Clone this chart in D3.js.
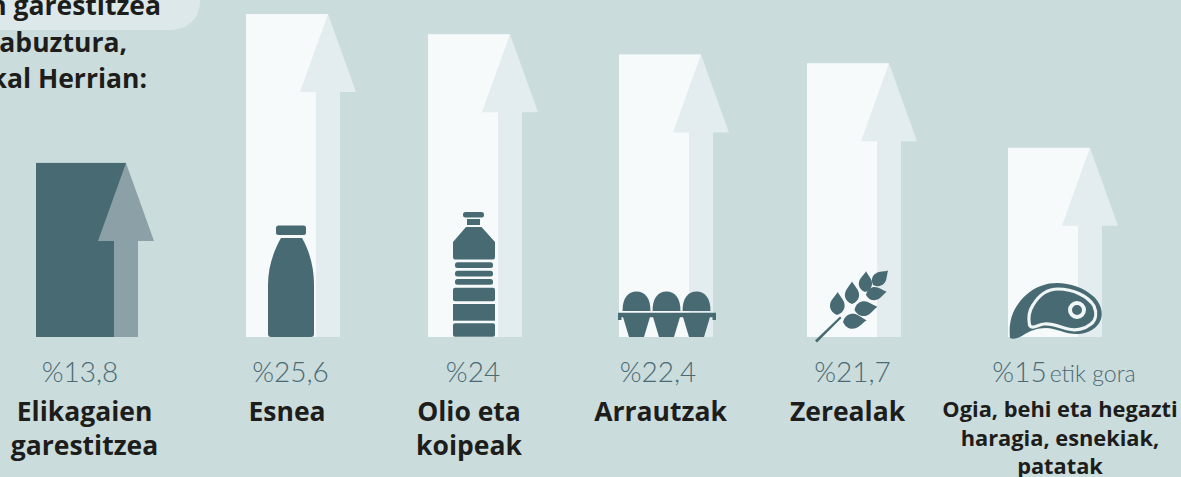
<!DOCTYPE html>
<html>
<head>
<meta charset="utf-8">
<script src="https://cdn.jsdelivr.net/npm/d3@7"></script>
<style>
  html, body { margin: 0; padding: 0; background: #cbdcdd; overflow: hidden; }
  text { font-family: "Open Sans", sans-serif; }
  .label { font-size: 26.5px; font-weight: 700; fill: #1d1d1b; }
  .value { font-size: 28px; font-weight: 300; fill: #4a6b74; font-family: "Lato", sans-serif; }
</style>
</head>
<body>
<svg id="chart" width="1181" height="477"></svg>
<script>
const categories = ["Elikagaien garestitzea", "Esnea", "Olio eta koipeak", "Arrautzak", "Zerealak", "Ogia, behi eta hegazti haragia, esnekiak, patatak"];
const values = [13.8, 25.6, 24, 22.4, 21.7, 15];
const valueLabels = ["%13,8", "%25,6", "%24", "%22,4", "%21,7", "%15"];
const labelLines = [["Elikagaien", "garestitzea"], ["Esnea"], ["Olio eta", "koipeak"], ["Arrautzak"], ["Zerealak"], ["Ogia, behi eta hegazti", "haragia, esnekiak,", "patatak"]];
const titleLines = ["n garestitzea", "abuztura,", "kal Herrian:"];

const svg = d3.select("#chart");

// bars are not evenly spaced in the original so the scales are ordinal
const x = d3.scaleOrdinal().domain(categories).range([36, 246, 428, 619, 807, 1008]);
const y = d3.scaleLinear().domain([0, 25.6]).range([337, 14]);
const labelX = d3.scaleOrdinal().domain(categories).range([84.5, 287, 469, 660.5, 847.5, 1060]);
const valueX = d3.scaleOrdinal().domain(categories).range([80, 290.5, 473, 658, 852.5, 1064]);

// title box, cut by the edge of the picture
svg.append("rect")
  .attr("x", -60).attr("y", -60)
  .attr("width", 260).attr("height", 90)
  .attr("rx", 28)
  .attr("fill", "#dce8e9");

svg.selectAll(".title")
  .data(titleLines)
  .enter().append("text")
  .attr("class", "label title")
  .attr("x", (d, i) => [161, 127, 147][i])
  .attr("y", (d, i) => 15 + i * 36.5)
  .attr("text-anchor", "end")
  .text(d => d);

const groups = svg.selectAll(".item")
  .data(categories)
  .enter().append("g")
  .attr("class", "item");

// bar
groups.append("rect")
  .attr("x", d => x(d))
  .attr("y", (d, i) => y(values[i]))
  .attr("width", (d, i) => i === 0 ? 90 : 82)
  .attr("height", (d, i) => y(0) - y(values[i]))
  .attr("fill", (d, i) => i === 0 ? "#486b73" : "#f6fafb");

// arrow, apex sits on the top right corner of the bar
groups.append("path")
  .attr("transform", (d, i) => `translate(${x(d) + (i === 0 ? 90 : 82)},${y(values[i])})`)
  .attr("d", (d, i) => {
    const h = y(0) - y(values[i]);
    return `M0,0L28,78H12V${h}H-12V78H-28Z`;
  })
  .attr("fill", (d, i) => i === 0 ? "#8ca0a7" : "#e3ecee");

// icons
const iconColor = "#486b73";
const lineColor = "#f0f5f6";
const leaf = "M0,0C-8,-3 -8,-10 -5.5,-14C-3,-18 -1,-20 0,-22C1,-20 3,-18 5.5,-14C8,-10 8,-3 0,0Z";
const icons = [
  null,
  g => {
    g.append("rect").attr("x", 276).attr("y", 225.5).attr("width", 30).attr("height", 9.5).attr("rx", 2.5);
    g.append("path").attr("d", "M281,238H302C310,252 314,268 314,285V334Q314,337 311,337H271Q268,337 268,334V285C268,268 273,252 281,238Z");
  },
  g => {
    g.append("rect").attr("x", 463).attr("y", 212).attr("width", 21).attr("height", 5.5).attr("rx", 2.5);
    g.append("rect").attr("x", 467).attr("y", 219).attr("width", 13).attr("height", 6);
    g.append("path").attr("d", "M466,227H481.5L495,242V257Q495,259.5 493,259.5H455Q453,259.5 453,257V242Z");
    [262.3, 270.7, 279].forEach(by => {
      g.append("rect").attr("x", 455).attr("y", by).attr("width", 38).attr("height", 5.7).attr("rx", 2.5);
    });
    g.append("rect").attr("x", 453).attr("y", 287.7).attr("width", 42).attr("height", 13.5).attr("rx", 2);
    g.append("rect").attr("x", 453).attr("y", 304).attr("width", 42).attr("height", 16.7);
    g.append("rect").attr("x", 453).attr("y", 323.3).attr("width", 42).attr("height", 13.5).attr("rx", 2);
  },
  g => {
    [623, 653, 683].forEach(ex => {
      g.append("path").attr("d", `M${ex - 0.5},311C${ex - 0.5},298 ${ex + 5},291.5 ${ex + 13.5},291.5C${ex + 22},291.5 ${ex + 27.5},298 ${ex + 27.5},311Z`);
      g.append("path").attr("d", `M${ex},317H${ex + 27}L${ex + 21},337H${ex + 6}Z`);
    });
    g.append("path").attr("d", "M618,312.7H716V320H712.5V317.3H621.5V320H618Z");
  },
  g => {
    g.append("path").attr("d", "M815,340.5L840,316.5L841.5,318L817,342.5Z");
    // base x, base y, rotation, scale
    [[837, 315, 2, 1.05], [852, 304, 0, 1.02], [865, 292, 3, 0.95], [873, 285, 46, 0.95], [843, 322, 86, 1.08], [854.5, 310, 82, 1.05], [866, 295, 81, 0.95]]
      .forEach(l => g.append("path").attr("d", leaf).attr("transform", `translate(${l[0]},${l[1]}) rotate(${l[2]}) scale(${l[3]})`));
  },
  g => {
    g.append("path").attr("d", "M1010,338C1008,320 1014,306 1026,295C1036,286 1047,283 1057,283C1070,283 1084,288 1093,296C1101,303 1103,312 1101,319C1098,328 1089,333 1079,334C1067,335 1056,328 1046,328C1037,328 1030,331 1025,334C1019,338 1013,340 1010,338Z");
    g.append("path")
      .attr("d", "M1029.5,325C1028,317 1029,311 1033,305C1039,295 1048,289 1058,289C1073,289 1088,296 1094,306C1097,313 1096,320 1091,324C1085,329 1076,331 1068,329C1060,327 1052,323 1044,324C1038,324.5 1032,330 1029.5,325Z")
      .attr("fill", "none").attr("stroke", lineColor).attr("stroke-width", 3.2);
    g.append("circle").attr("cx", 1077).attr("cy", 310).attr("r", 7).attr("fill", "none").attr("stroke", lineColor).attr("stroke-width", 4);
  }
];
groups.append("g").attr("fill", iconColor).each(function (d, i) {
  if (icons[i]) icons[i](d3.select(this));
});

// value labels
groups.append("text")
  .attr("class", "value")
  .attr("x", d => valueX(d))
  .attr("y", 382)
  .attr("text-anchor", "middle")
  .text((d, i) => valueLabels[i])
  .each(function (d, i) {
    if (i === 5) d3.select(this).append("tspan").attr("font-size", 23).attr("dx", 3).text("etik gora");
  });

// category labels
groups.append("g").each(function (d, i) {
  d3.select(this).selectAll("text")
    .data(labelLines[i])
    .enter().append("text")
    .attr("class", "label")
    .attr("x", labelX(d))
    .attr("y", (l, j) => i === 5 ? 417 + j * 28.5 : 421 + j * 34)
    .attr("text-anchor", "middle")
    .style("font-size", i === 5 ? "21.8px" : null)
    .text(l => l);
});
</script>
</body>
</html>
